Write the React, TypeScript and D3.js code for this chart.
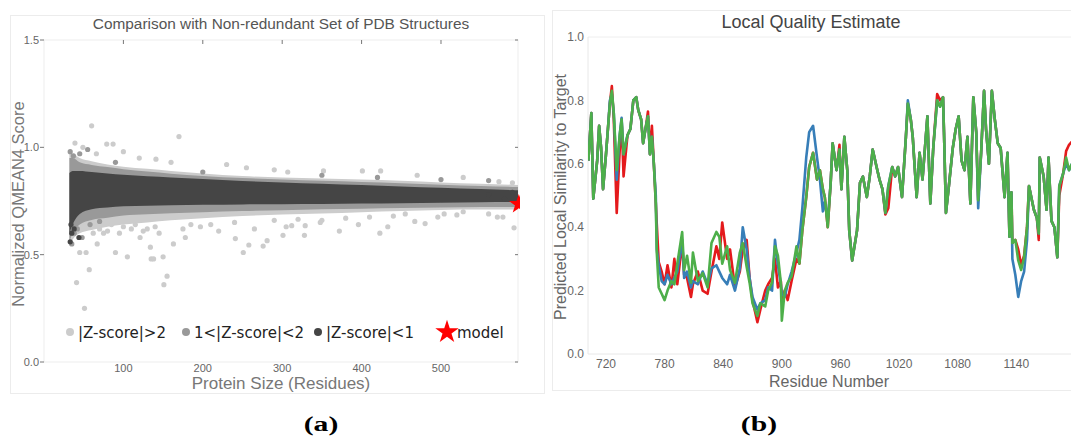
import React, { useEffect, useRef } from 'react';
import * as d3 from 'd3';

// ---- panel (a): reference set cloud, drawn as bands + stray points ----
const bandSizes = [32, 36, 45, 60, 80, 100, 130, 160, 200, 250, 300, 350, 400, 450, 500, 550, 597];
const lightHi = [0.97, 0.97, 0.95, 0.935, 0.92, 0.91, 0.9, 0.89, 0.878, 0.866, 0.86, 0.855, 0.85, 0.844, 0.836, 0.83, 0.825];
const midHi = [0.95, 0.95, 0.93, 0.918, 0.908, 0.898, 0.887, 0.877, 0.867, 0.857, 0.85, 0.844, 0.839, 0.833, 0.826, 0.82, 0.815];
const darkHi = [0.88, 0.89, 0.89, 0.885, 0.878, 0.872, 0.865, 0.86, 0.852, 0.843, 0.836, 0.83, 0.824, 0.818, 0.812, 0.806, 0.8];
const darkLo = [0.6, 0.64, 0.69, 0.712, 0.72, 0.725, 0.728, 0.73, 0.732, 0.734, 0.735, 0.736, 0.738, 0.74, 0.742, 0.744, 0.745];
const midLo = [0.56, 0.6, 0.64, 0.662, 0.672, 0.682, 0.688, 0.693, 0.698, 0.703, 0.707, 0.711, 0.714, 0.717, 0.72, 0.722, 0.722];
const lightLo = [0.54, 0.57, 0.6, 0.615, 0.63, 0.64, 0.65, 0.66, 0.67, 0.68, 0.687, 0.692, 0.698, 0.703, 0.708, 0.71, 0.71];

// stray points [size, score]
const lightPts = [
  [39, 1.02], [49, 1.0], [60, 1.1], [79, 1.015], [87, 1.015], [100, 0.98], [141, 0.945], [170, 1.05],
  [66, 0.97], [120, 0.95], [160, 0.93], [230, 0.92], [255, 0.905], [290, 0.895], [307, 0.885], [352, 0.89],
  [401, 0.89], [424, 0.89], [470, 0.87], [528, 0.86], [573, 0.84], [590, 0.835],
  [41, 0.37], [51, 0.25], [57, 0.43], [45, 0.51], [53, 0.51], [67, 0.55], [90, 0.51], [105, 0.49],
  [121, 0.58], [134, 0.535], [135, 0.48], [138, 0.48], [150, 0.49], [151, 0.36], [155, 0.4], [163, 0.55],
  [178, 0.58], [197, 0.63], [241, 0.575], [251, 0.51], [258, 0.545], [276, 0.54], [281, 0.565], [301, 0.59],
  [328, 0.59], [372, 0.61], [396, 0.64], [423, 0.6], [433, 0.63], [480, 0.645], [592, 0.625], [305, 0.63],
  [312, 0.635], [329, 0.635], [348, 0.65], [467, 0.655], [496, 0.675], [504, 0.69], [571, 0.675], [578, 0.675],
  [528, 0.7], [70, 0.62], [75, 0.6], [85, 0.64], [95, 0.6], [110, 0.62], [125, 0.61], [140, 0.63],
  [145, 0.6], [175, 0.62], [210, 0.64], [220, 0.61], [265, 0.62], [290, 0.66], [350, 0.66], [380, 0.67],
  [440, 0.68], [520, 0.685], [560, 0.69], [62, 0.6], [80, 0.61], [100, 0.63], [115, 0.64], [130, 0.62],
  [185, 0.64], [240, 0.65], [320, 0.665], [410, 0.675], [455, 0.69],
];
const midPts = [
  [33, 0.98], [37, 0.96], [45, 0.97], [55, 0.99], [35, 0.55], [38, 0.6], [42, 0.62], [48, 0.58],
  [58, 0.64], [70, 0.655], [350, 0.87], [420, 0.86], [500, 0.85], [560, 0.845], [90, 0.93], [200, 0.885],
];
const darkPts = [
  [33, 0.56], [35, 0.6], [38, 0.62], [44, 0.58], [36, 0.68], [34, 0.64], [560, 0.78], [580, 0.76], [590, 0.79],
];
const modelPt = [598, 0.735];

const xTicksA = [100, 200, 300, 400, 500];
const yTicksA = [0, 0.5, 1.0, 1.5];
const legendA = [
  { label: '|Z-score|>2', color: '#cccccc' },
  { label: '1<|Z-score|<2', color: '#999999' },
  { label: '|Z-score|<1', color: '#454545' },
];

// ---- panel (b): local quality per residue ----
const residues = [
  702, 705, 707, 709, 711, 713, 715, 717, 720, 722, 724, 726, 728, 731, 734, 736, 738, 742, 745, 748,
  751, 753, 756, 758, 761, 763, 765, 767, 769, 771, 772, 774, 777, 780, 783, 787, 790, 793, 798, 800,
  803, 807, 809, 814, 819, 824, 828, 833, 836, 839, 844, 847, 852, 857, 860, 864, 867, 870, 875, 878,
  883, 886, 890, 893, 896, 899, 900, 903, 906, 910, 915, 918, 921, 925, 928, 932, 936, 939, 942, 944,
  947, 950, 952, 956, 959, 961, 964, 967, 969, 972, 977, 980, 983, 987, 990, 993, 997, 1000, 1003, 1006,
  1009, 1013, 1016, 1019, 1023, 1027, 1029, 1032, 1034, 1038, 1041, 1044, 1049, 1052, 1055, 1059, 1062, 1065, 1066, 1068,
  1071, 1075, 1078, 1081, 1084, 1087, 1090, 1093, 1096, 1099, 1101, 1104, 1107, 1109, 1112, 1115, 1118, 1121, 1124, 1128,
  1131, 1133, 1135, 1136, 1139, 1142, 1145, 1148, 1151, 1153, 1158, 1161, 1163, 1164, 1168, 1171, 1173, 1176, 1179, 1182,
  1184, 1188, 1191, 1194, 1197,
];
const greenVals = [
  0.61, 0.76, 0.49, 0.55, 0.61, 0.72, 0.65, 0.52, 0.63, 0.71, 0.79, 0.83, 0.76, 0.58, 0.69, 0.74, 0.63, 0.69, 0.71, 0.8,
  0.81, 0.77, 0.74, 0.665, 0.72, 0.75, 0.63, 0.685, 0.6, 0.475, 0.32, 0.21, 0.19, 0.17, 0.2, 0.23, 0.22, 0.285, 0.385, 0.265,
  0.31, 0.225, 0.32, 0.23, 0.255, 0.21, 0.35, 0.385, 0.37, 0.285, 0.34, 0.265, 0.225, 0.32, 0.35, 0.275, 0.225, 0.16, 0.12, 0.16,
  0.15, 0.2, 0.225, 0.34, 0.31, 0.225, 0.105, 0.2, 0.225, 0.245, 0.34, 0.285, 0.39, 0.495, 0.59, 0.635, 0.55, 0.58, 0.52, 0.495,
  0.4, 0.54, 0.665, 0.58, 0.645, 0.52, 0.685, 0.58, 0.39, 0.295, 0.39, 0.54, 0.56, 0.495, 0.56, 0.645, 0.59, 0.55, 0.52, 0.445,
  0.53, 0.59, 0.56, 0.59, 0.495, 0.685, 0.79, 0.74, 0.685, 0.495, 0.635, 0.55, 0.75, 0.475, 0.65, 0.8, 0.78, 0.81, 0.7, 0.445,
  0.53, 0.65, 0.71, 0.75, 0.61, 0.58, 0.685, 0.475, 0.81, 0.7, 0.485, 0.635, 0.83, 0.71, 0.6, 0.83, 0.74, 0.665, 0.65, 0.495,
  0.635, 0.37, 0.51, 0.35, 0.36, 0.295, 0.265, 0.305, 0.4, 0.53, 0.455, 0.43, 0.38, 0.62, 0.56, 0.455, 0.62, 0.42, 0.4, 0.305,
  0.53, 0.57, 0.62, 0.58, 0.6,
];
const redVals = [
  0.61, 0.76, 0.49, 0.55, 0.61, 0.72, 0.65, 0.52, 0.63, 0.71, 0.79, 0.845, 0.74, 0.445, 0.64, 0.74, 0.56, 0.69, 0.71, 0.8,
  0.81, 0.77, 0.74, 0.665, 0.72, 0.765, 0.63, 0.72, 0.6, 0.475, 0.41, 0.29, 0.26, 0.22, 0.28, 0.21, 0.3, 0.22, 0.35, 0.25,
  0.24, 0.18, 0.22, 0.26, 0.2, 0.19, 0.26, 0.34, 0.3, 0.415, 0.3, 0.33, 0.21, 0.26, 0.33, 0.36, 0.24, 0.17, 0.1, 0.14,
  0.2, 0.22, 0.24, 0.3, 0.21, 0.23, 0.17, 0.2, 0.17, 0.23, 0.3, 0.285, 0.39, 0.495, 0.59, 0.635, 0.55, 0.58, 0.52, 0.495,
  0.4, 0.54, 0.665, 0.58, 0.66, 0.52, 0.685, 0.58, 0.39, 0.295, 0.39, 0.54, 0.56, 0.495, 0.56, 0.645, 0.59, 0.55, 0.52, 0.44,
  0.46, 0.59, 0.56, 0.59, 0.495, 0.685, 0.79, 0.74, 0.685, 0.495, 0.635, 0.55, 0.75, 0.475, 0.65, 0.82, 0.8, 0.81, 0.7, 0.445,
  0.53, 0.65, 0.71, 0.75, 0.61, 0.58, 0.685, 0.475, 0.81, 0.7, 0.485, 0.635, 0.83, 0.71, 0.6, 0.83, 0.74, 0.665, 0.65, 0.495,
  0.635, 0.37, 0.51, 0.35, 0.36, 0.33, 0.28, 0.31, 0.4, 0.53, 0.455, 0.43, 0.36, 0.62, 0.56, 0.455, 0.62, 0.42, 0.4, 0.305,
  0.5, 0.57, 0.64, 0.66, 0.67,
];
const blueVals = [
  0.61, 0.76, 0.49, 0.55, 0.61, 0.72, 0.65, 0.52, 0.63, 0.71, 0.8, 0.82, 0.76, 0.55, 0.69, 0.745, 0.63, 0.69, 0.71, 0.8,
  0.81, 0.77, 0.74, 0.665, 0.72, 0.75, 0.63, 0.685, 0.6, 0.5, 0.33, 0.28, 0.23, 0.22, 0.25, 0.22, 0.24, 0.26, 0.36, 0.24,
  0.26, 0.21, 0.23, 0.22, 0.26, 0.22, 0.27, 0.28, 0.26, 0.24, 0.22, 0.25, 0.2, 0.27, 0.4, 0.33, 0.24, 0.18, 0.14, 0.16,
  0.17, 0.21, 0.2, 0.36, 0.28, 0.22, 0.19, 0.18, 0.22, 0.26, 0.32, 0.36, 0.46, 0.62, 0.7, 0.72, 0.62, 0.55, 0.45, 0.48,
  0.42, 0.54, 0.665, 0.58, 0.645, 0.52, 0.685, 0.58, 0.39, 0.295, 0.39, 0.54, 0.56, 0.495, 0.56, 0.645, 0.59, 0.55, 0.52, 0.445,
  0.53, 0.59, 0.56, 0.59, 0.495, 0.685, 0.8, 0.74, 0.685, 0.495, 0.635, 0.55, 0.75, 0.475, 0.65, 0.8, 0.78, 0.81, 0.7, 0.445,
  0.53, 0.65, 0.71, 0.75, 0.61, 0.58, 0.685, 0.475, 0.81, 0.7, 0.46, 0.635, 0.83, 0.71, 0.6, 0.83, 0.74, 0.665, 0.65, 0.495,
  0.635, 0.37, 0.51, 0.3, 0.25, 0.18, 0.23, 0.26, 0.36, 0.53, 0.455, 0.43, 0.38, 0.62, 0.56, 0.455, 0.62, 0.42, 0.4, 0.305,
  0.53, 0.57, 0.6, 0.58, 0.6,
];
const xTicksB = [720, 780, 840, 900, 960, 1020, 1080, 1140];
const yTicksB = [0, 0.2, 0.4, 0.6, 0.8, 1.0];

const sans = '"Liberation Sans", Arial, sans-serif';
const serif = '"Liberation Serif", "Times New Roman", serif';

const App = () => {
  const svgRef = useRef<SVGSVGElement>(null);

  useEffect(() => {
    const svg = d3.select(svgRef.current);
    svg.selectAll('*').remove();
    const defs = svg.append('defs');

    // ================= panel (a) =================
    svg.append('rect')
      .attr('x', 10.5).attr('y', 15.5).attr('width', 534).attr('height', 378)
      .attr('fill', '#fff').attr('stroke', '#ececec');

    const xA = d3.scaleLinear().domain([0, 597]).range([44, 518]);
    const yA = d3.scaleLinear().domain([0, 1.5]).range([362, 40]);

    defs.append('clipPath').attr('id', 'clipA')
      .append('rect').attr('x', 44).attr('y', 40).attr('width', 476).attr('height', 322);

    const a = svg.append('g');
    a.append('rect')
      .attr('x', 44).attr('y', 40).attr('width', 474).attr('height', 322)
      .attr('fill', 'none').attr('stroke', '#ededed');

    const band = (lo: number[], hi: number[]) => d3.area<number>()
      .x(d => xA(d))
      .y0((d, i) => yA(lo[i]))
      .y1((d, i) => yA(hi[i]))
      .curve(d3.curveMonotoneX);

    a.append('path').attr('d', band(lightLo, lightHi)(bandSizes)).attr('fill', '#cccccc');
    a.append('path').attr('d', band(midLo, midHi)(bandSizes)).attr('fill', '#999999');
    a.append('path').attr('d', band(darkLo, darkHi)(bandSizes)).attr('fill', '#454545');

    const dots = (pts: number[][], color: string) => {
      a.append('g').selectAll('circle')
        .data(pts)
        .enter().append('circle')
        .attr('cx', d => xA(d[0]))
        .attr('cy', d => yA(d[1]))
        .attr('r', 2.6)
        .attr('fill', color);
    };
    dots(lightPts, '#cccccc');
    dots(midPts, '#999999');
    dots(darkPts, '#454545');

    // ticks
    a.selectAll('.xt').data(xTicksA).enter().append('line')
      .attr('x1', d => xA(d)).attr('x2', d => xA(d)).attr('y1', 40).attr('y2', 44)
      .attr('stroke', '#777');
    a.selectAll('.xl').data(xTicksA).enter().append('text')
      .attr('x', d => xA(d)).attr('y', 372)
      .attr('text-anchor', 'middle').attr('font-family', sans).attr('font-size', 11).attr('fill', '#666')
      .text(d => d);
    a.selectAll('.yt').data(yTicksA).enter().append('line')
      .attr('x1', 40).attr('x2', 44).attr('y1', d => yA(d)).attr('y2', d => yA(d))
      .attr('stroke', '#777');
    a.selectAll('.yr').data(yTicksA).enter().append('line')
      .attr('x1', 515).attr('x2', 518).attr('y1', d => yA(d)).attr('y2', d => yA(d))
      .attr('stroke', '#777');
    a.selectAll('.yl').data(yTicksA).enter().append('text')
      .attr('x', 39).attr('y', d => yA(d)).attr('dy', '0.35em')
      .attr('text-anchor', 'end').attr('font-family', sans).attr('font-size', 11).attr('fill', '#666')
      .text(d => d.toFixed(1));

    a.append('text')
      .attr('x', 281).attr('y', 29).attr('text-anchor', 'middle')
      .attr('font-family', sans).attr('font-size', 15.4).attr('fill', '#555')
      .text('Comparison with Non-redundant Set of PDB Structures');
    a.append('text')
      .attr('transform', 'translate(24,204) rotate(-90)').attr('text-anchor', 'middle')
      .attr('font-family', sans).attr('font-size', 16.5).attr('fill', '#777')
      .text('Normalized QMEAN4 Score');
    a.append('text')
      .attr('x', 281).attr('y', 389).attr('text-anchor', 'middle')
      .attr('font-family', sans).attr('font-size', 17).attr('fill', '#777')
      .text('Protein Size (Residues)');

    // model star (sits on the right edge, clipped by the plot)
    a.append('g').attr('clip-path', 'url(#clipA)')
      .append('path')
      .attr('d', d3.symbol(d3.symbolStar).size(120)())
      .attr('transform', `translate(${xA(modelPt[0])},${yA(modelPt[1])})`)
      .attr('fill', '#ff0000');

    // legend
    const legX = [70, 186, 318];
    legendA.forEach((d, i) => {
      a.append('circle').attr('cx', legX[i]).attr('cy', 332).attr('r', 4).attr('fill', d.color);
      a.append('text')
        .attr('x', legX[i] + 8).attr('y', 338)
        .attr('font-family', '"DejaVu Sans", sans-serif').attr('font-size', 15).attr('fill', '#222')
        .text(d.label);
    });
    a.append('path')
      .attr('d', d3.symbol(d3.symbolStar).size(170)())
      .attr('transform', 'translate(447,332)')
      .attr('fill', '#ff0000');
    a.append('text')
      .attr('x', 457).attr('y', 338)
      .attr('font-family', '"DejaVu Sans", sans-serif').attr('font-size', 15).attr('fill', '#222')
      .text('model');

    // ================= panel (b) =================
    svg.append('rect')
      .attr('x', 552.5).attr('y', 10.5).attr('width', 530).attr('height', 380)
      .attr('fill', '#fff').attr('stroke', '#ececec');

    const xB = d3.scaleLinear().domain([701.6, 1196]).range([588, 1071]);
    const yB = d3.scaleLinear().domain([0, 1]).range([354, 37]);

    const b = svg.append('g');
    b.append('line').attr('x1', 588).attr('x2', 1071).attr('y1', 37).attr('y2', 37).attr('stroke', '#eeeeee');
    b.append('line').attr('x1', 588).attr('x2', 1071).attr('y1', 354).attr('y2', 354).attr('stroke', '#e8e8e8');
    b.append('line').attr('x1', 588).attr('x2', 588).attr('y1', 37).attr('y2', 354).attr('stroke', '#e8e8e8');

    b.selectAll('.yl').data(yTicksB).enter().append('text')
      .attr('x', 584).attr('y', d => yB(d)).attr('dy', '0.35em')
      .attr('text-anchor', 'end').attr('font-family', sans).attr('font-size', 12).attr('fill', '#666')
      .text(d => d.toFixed(1));
    b.selectAll('.xl').data(xTicksB).enter().append('text')
      .attr('x', d => xB(d)).attr('y', 368)
      .attr('text-anchor', 'middle').attr('font-family', sans).attr('font-size', 12).attr('fill', '#666')
      .text(d => d);

    defs.append('clipPath').attr('id', 'clipB')
      .append('rect').attr('x', 588).attr('y', 30).attr('width', 483).attr('height', 330);

    const line = (vals: number[]) => d3.line<number>()
      .x(d => xB(d))
      .y((d, i) => yB(vals[i]))(residues);

    const lines = b.append('g').attr('clip-path', 'url(#clipB)');
    [[redVals, '#e41a1c'], [blueVals, '#377eb8'], [greenVals, '#4daf4a']].forEach(([vals, color]) => {
      lines.append('path')
        .attr('d', line(vals as number[]))
        .attr('fill', 'none')
        .attr('stroke', color as string)
        .attr('stroke-width', 2.6)
        .attr('stroke-linejoin', 'round');
    });

    b.append('text')
      .attr('x', 811).attr('y', 28).attr('text-anchor', 'middle')
      .attr('font-family', sans).attr('font-size', 18).attr('fill', '#444')
      .text('Local Quality Estimate');
    b.append('text')
      .attr('transform', 'translate(566,197) rotate(-90)').attr('text-anchor', 'middle')
      .attr('font-family', sans).attr('font-size', 16).attr('fill', '#666')
      .text('Predicted Local Similarity to Target');
    b.append('text')
      .attr('x', 829).attr('y', 387).attr('text-anchor', 'middle')
      .attr('font-family', sans).attr('font-size', 16).attr('fill', '#666')
      .text('Residue Number');

    // captions (the source image is a little stretched sideways)
    [['(a)', 321], ['(b)', 759]].forEach(([t, x]) => {
      svg.append('text')
        .attr('transform', `translate(${x},431) scale(1.35,1)`)
        .attr('text-anchor', 'middle')
        .attr('font-family', serif).attr('font-weight', 'bold')
        .attr('font-size', 22).attr('fill', '#000')
        .text(t as string);
    });
  }, []);

  return (
    <svg ref={svgRef} width={1071} height={436}
      style={{ position: 'absolute', left: 0, top: 0, background: '#fff' }} />
  );
};

export default App;
